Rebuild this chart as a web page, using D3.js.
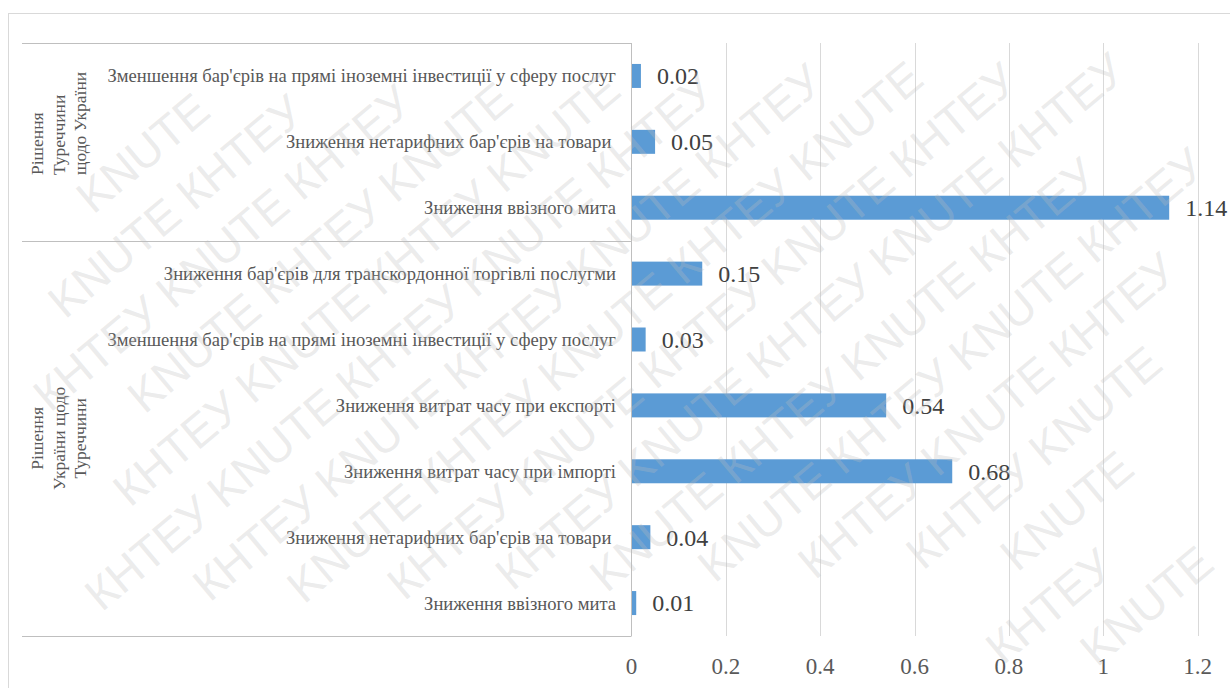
<!DOCTYPE html>
<html>
<head>
<meta charset="utf-8">
<script src="https://cdn.jsdelivr.net/npm/d3@7"></script>
<style>
  html, body { margin: 0; padding: 0; background: #fff; }
  svg { display: block; }
  text { white-space: pre; }
</style>
</head>
<body>
<svg id="chart" width="1230" height="688"></svg>
<script>
// Measures, top to bottom
const categories = [
  "Зменшення бар'єрів на прямі іноземні інвестиції у сферу послуг",
  "Зниження нетарифних бар'єрів на товари ",
  "Зниження ввізного мита",
  "Зниження бар'єрів для транскордонної торгівлі послугми",
  "Зменшення бар'єрів на прямі іноземні інвестиції у сферу послуг",
  "Зниження витрат часу при експорті",
  "Зниження витрат часу при імпорті",
  "Зниження нетарифних бар'єрів на товари ",
  "Зниження ввізного мита"
];
const values = [0.02, 0.05, 1.14, 0.15, 0.03, 0.54, 0.68, 0.04, 0.01];

// Outer category groups (label lines and number of measures in each)
const groupLabels = [
  ["Рішення", "Туреччини", "щодо України"],
  ["Рішення", "України щодо", "Туреччини"]
];
const groupSizes = [3, 6];

const xTicks = [0, 0.2, 0.4, 0.6, 0.8, 1, 1.2];
const watermarkWords = ["KNUTE", "КНТЕУ"];

const font = '"Liberation Serif", "Times New Roman", serif';

const svg = d3.select("#chart");
const W = 1230, H = 688;

const plot = { left: 631.5, right: 1197.5, top: 43, bottom: 636 };
const boxLeft = 22;

const x = d3.scaleLinear().domain([0, 1.2]).range([plot.left, plot.right]);
const y = d3.scaleBand()
  .domain(categories.map((d, i) => i))
  .range([plot.top, plot.bottom])
  .paddingInner(0.636)
  .paddingOuter(0.318);

// chart frame
svg.append("rect")
  .attr("x", 8.5).attr("y", 13.5)
  .attr("width", W).attr("height", H)
  .attr("fill", "none").attr("stroke", "#d9d9d9").attr("stroke-width", 1);

// vertical gridlines
svg.append("g")
  .selectAll("line")
  .data(xTicks.slice(1))
  .join("line")
  .attr("x1", d => Math.round(x(d)) + 0.5)
  .attr("x2", d => Math.round(x(d)) + 0.5)
  .attr("y1", plot.top).attr("y2", plot.bottom)
  .attr("stroke", "#d9d9d9").attr("stroke-width", 1);

// x tick labels
svg.append("g")
  .selectAll("text")
  .data(xTicks)
  .join("text")
  .attr("x", d => x(d))
  .attr("y", 674)
  .attr("text-anchor", "middle")
  .style("font-family", font)
  .attr("font-size", 23)
  .attr("fill", "#595959")
  .text(d => d3.format("~g")(d));

// bars
svg.append("g")
  .selectAll("rect")
  .data(values)
  .join("rect")
  .attr("x", x(0))
  .attr("y", (d, i) => y(i))
  .attr("width", d => x(d) - x(0))
  .attr("height", y.bandwidth())
  .attr("fill", "#5b9bd5");

// value labels
svg.append("g")
  .selectAll("text")
  .data(values)
  .join("text")
  .attr("x", d => x(d) + 16)
  .attr("y", (d, i) => y(i) + y.bandwidth() / 2)
  .attr("dy", "0.35em")
  .style("font-family", font)
  .attr("font-size", 24)
  .attr("fill", "#404040")
  .text(d => d3.format(".2f")(d));

// category axis frame: vertical axis line and group separators
const axisG = svg.append("g").attr("stroke", "#bfbfbf").attr("stroke-width", 1);
axisG.append("line")
  .attr("x1", plot.left).attr("x2", plot.left)
  .attr("y1", plot.top).attr("y2", plot.bottom);

let idx = 0;
const groupBounds = groupSizes.map(n => {
  const start = idx, end = idx + n - 1;
  idx += n;
  const y0 = start === 0 ? plot.top : y(start) - y.step() * y.paddingInner() / 2;
  const y1 = end === categories.length - 1 ? plot.bottom : y(end) + y.bandwidth() + y.step() * y.paddingInner() / 2;
  return { y0, y1 };
});
const sepYs = [plot.top].concat(groupBounds.map(g => g.y1));
axisG.selectAll("line.sep")
  .data(sepYs)
  .join("line")
  .attr("class", "sep")
  .attr("x1", boxLeft).attr("x2", plot.left)
  .attr("y1", d => Math.round(d) + 0.5).attr("y2", d => Math.round(d) + 0.5);

// inner category labels
svg.append("g")
  .selectAll("text")
  .data(categories)
  .join("text")
  .attr("x", plot.left - 15.5)
  .attr("y", (d, i) => y(i) + y.bandwidth() / 2)
  .attr("dy", "0.35em")
  .attr("text-anchor", "end")
  .style("font-family", font)
  .attr("font-size", 18.6)
  .attr("fill", "#595959")
  .text(d => d);

// outer group labels, rotated
const groupAnchor = ["start", "middle"];
const lineXs = [37, 58.5, 80];
groupLabels.forEach((lines, gi) => {
  const b = groupBounds[gi];
  const cy = gi === 0 ? 175 : (b.y0 + b.y1) / 2;
  lines.forEach((ln, li) => {
    svg.append("text")
      .attr("transform", `translate(${lineXs[li] + 6},${cy}) rotate(-90)`)
      .attr("text-anchor", groupAnchor[gi])
      .style("font-family", font)
      .attr("font-size", 17.5)
      .attr("fill", "#595959")
      .text(ln);
  });
});

// faint repeated watermark; only words that fit fully inside the picture
const angle = -40 * Math.PI / 180;
const fs = 46, wordW = 150, rowGap = 62;
const cosA = Math.cos(angle), sinA = Math.sin(angle);
const wm = svg.append("g")
  .style("font-family", '"Liberation Sans", Arial, sans-serif')
  .attr("font-size", fs)
  .attr("fill", "#bdbdbd")
  .attr("fill-opacity", 0.3)
  .attr("pointer-events", "none");
for (let r = -16; r <= 16; r++) {
  for (let k = -12; k <= 12; k++) {
    const u = k * (wordW + 14) + (r % 2) * 75;
    const v = r * rowGap;
    const cx = W / 2 + u * cosA - v * sinA;
    const cy = H / 2 + u * sinA + v * cosA;
    const pts = [[-wordW / 2 - 4, -fs * 0.8], [wordW / 2 + 4, -fs * 0.8], [-wordW / 2 - 4, fs * 0.2], [wordW / 2 + 4, fs * 0.2]]
      .map(([a, b]) => [cx + a * cosA - b * sinA, cy + a * sinA + b * cosA]);
    if (pts.every(([px, py]) => px > 4 && px < W - 4 && py > 4 && py < H - 4)) {
      wm.append("text")
        .attr("transform", `translate(${cx},${cy}) rotate(-40)`)
        .attr("text-anchor", "middle")
        .text(watermarkWords[((k + r) % 2 + 2) % 2]);
    }
  }
}
</script>
</body>
</html>
